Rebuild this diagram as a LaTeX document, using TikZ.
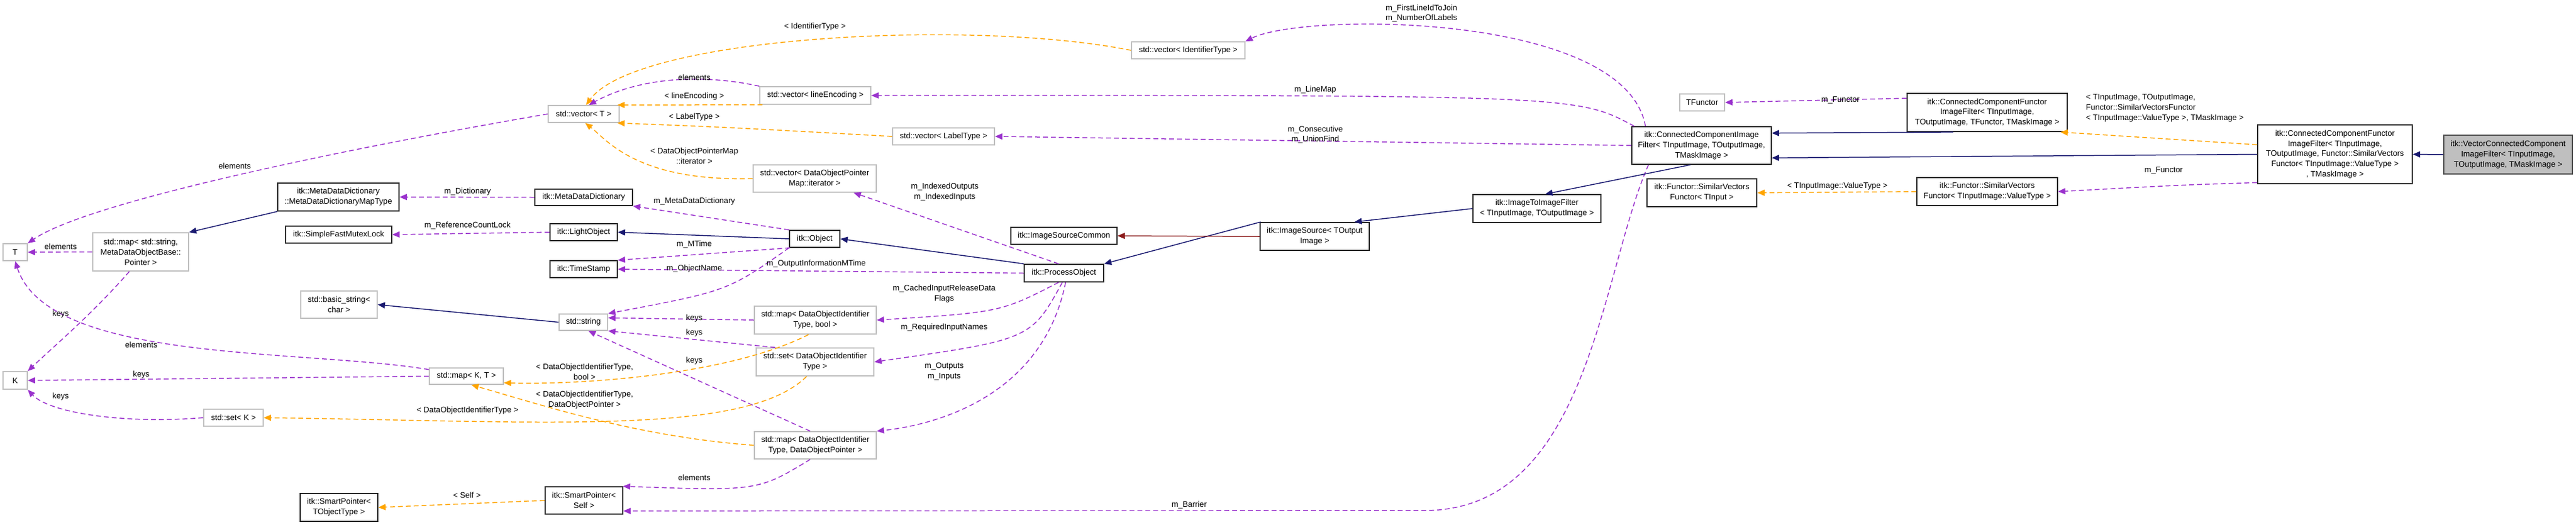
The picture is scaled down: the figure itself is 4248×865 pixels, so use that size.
\documentclass[tikz,border=0pt]{standalone}
\usepackage{fontspec}
\setmainfont{Liberation Sans}
\usetikzlibrary{arrows.meta,calc}
\definecolor{cuse}{HTML}{9A32CD}
\definecolor{ctpl}{HTML}{FFA500}
\definecolor{cinh}{HTML}{191970}
\definecolor{cred}{HTML}{8B1A1A}
\definecolor{cgray}{HTML}{BFBFBF}
\newcommand\bx[7]{\node[#6, minimum width={(#4-#2)*0.2mm}, minimum height={(#5-#3)*0.2mm}] (#1) at ({(#2+#4)/2},{(#3+#5)/2}) {#7};}
\begin{document}
\begin{tikzpicture}[x=0.2mm,y=-0.2mm,
  every node/.style={font=\fontsize{7.5}{9.6}\selectfont, inner sep=1pt, align=center},
  blk/.style={draw=black!85, line width=0.35mm, fill=white},
  gry/.style={draw=cgray, line width=0.35mm, fill=white},
  cur/.style={draw=black!70, line width=0.35mm, fill=cgray},
  lbl/.style={},
  tip/.style={-{Triangle[length=2.4mm,width=2mm]}},
  use/.style={tip, draw=cuse, line width=0.3mm, dash pattern=on 1.6mm off 1mm},
  tpl/.style={tip, draw=ctpl, line width=0.3mm, dash pattern=on 1.6mm off 1mm},
  inh/.style={tip, draw=cinh, line width=0.3mm},
  red/.style={tip, draw=cred, line width=0.3mm}]
\useasboundingbox (0,0) rectangle (4248,865);
% boxes
\bx{nT}{5}{402}{45}{430}{gry}{T}
\bx{nK}{5}{613}{45}{642}{gry}{K}
\bx{nMapStr}{153}{384}{311}{447}{gry}{std::map< std::string,\\MetaDataObjectBase::\\Pointer >}
\bx{nMDMT}{458}{302}{658}{348}{blk}{itk::MetaDataDictionary\\::MetaDataDictionaryMapType}
\bx{nSFML}{471}{373}{646}{401}{blk}{itk::SimpleFastMutexLock}
\bx{nBS}{496}{480}{622}{525}{gry}{std::basic\_string<\\char >}
\bx{nSetK}{336}{675}{434}{703}{gry}{std::set< K >}
\bx{nSPT}{495}{814}{623}{860}{blk}{itk::SmartPointer<\\TObjectType >}
\bx{nMapKT}{708}{607}{830}{634}{gry}{std::map< K, T >}
\bx{nSPS}{899}{803}{1027}{848}{blk}{itk::SmartPointer<\\Self >}
\bx{nVecT}{904}{174}{1021}{202}{gry}{std::vector< T >}
\bx{nMDD}{882}{312}{1043}{339}{blk}{itk::MetaDataDictionary}
\bx{nLO}{907}{369}{1018}{397}{blk}{itk::LightObject}
\bx{nTS}{907}{430}{1018}{458}{blk}{itk::TimeStamp}
\bx{nStr}{922}{518}{1002}{545}{gry}{std::string}
\bx{nVecId}{1866}{69}{2053}{97}{gry}{std::vector< IdentifierType >}
\bx{nVecLE}{1253}{143}{1436}{172}{gry}{std::vector< lineEncoding >}
\bx{nVecLT}{1472}{211}{1640}{239}{gry}{std::vector< LabelType >}
\bx{nVecIt}{1242}{272}{1445}{317}{gry}{std::vector< DataObjectPointer\\Map::iterator >}
\bx{nObj}{1302}{380}{1385}{408}{blk}{itk::Object}
\bx{nISC}{1667}{375}{1842}{403}{blk}{itk::ImageSourceCommon}
\bx{nPO}{1689}{436}{1820}{465}{blk}{itk::ProcessObject}
\bx{nMapB}{1244}{505}{1445}{551}{gry}{std::map< DataObjectIdentifier\\Type, bool >}
\bx{nSetD}{1247}{574}{1441}{620}{gry}{std::set< DataObjectIdentifier\\Type >}
\bx{nMapD}{1244}{712}{1445}{757}{gry}{std::map< DataObjectIdentifier\\Type, DataObjectPointer >}
\bx{nCCIF}{2691}{209}{2921}{271}{blk}{itk::ConnectedComponentImage\\Filter< TInputImage, TOutputImage,\\TMaskImage >}
\bx{nTF}{2770}{155}{2844}{183}{gry}{TFunctor}
\bx{nSVF}{2716}{295}{2897}{341}{blk}{itk::Functor::SimilarVectors\\Functor< TInput >}
\bx{nI2I}{2429}{321}{2640}{367}{blk}{itk::ImageToImageFilter\\< TInputImage, TOutputImage >}
\bx{nIS}{2078}{367}{2258}{413}{blk}{itk::ImageSource< TOutput\\Image >}
\bx{nCCF}{3145}{154}{3409}{217}{blk}{itk::ConnectedComponentFunctor\\ImageFilter< TInputImage,\\TOutputImage, TFunctor, TMaskImage >}
\bx{nCCFS}{3723}{206}{3978}{303}{blk}{itk::ConnectedComponentFunctor\\ImageFilter< TInputImage,\\TOutputImage, Functor::SimilarVectors\\Functor< TInputImage::ValueType >\\, TMaskImage >}
\bx{nVCC}{4030}{223}{4242}{287}{cur}{itk::VectorConnectedComponent\\ImageFilter< TInputImage,\\TOutputImage, TMaskImage >}
\bx{nSVFV}{3161}{293}{3393}{339}{blk}{itk::Functor::SimilarVectors\\Functor< TInputImage::ValueType >}
% edges
\draw[use] (nVecT.west) .. controls (600,240) and (150,330) .. (nT.north east);
\draw[use] (nMapStr.west) -- (nT.east);
\draw[use] (nMapStr.-120) .. controls (150,520) and (90,570) .. (nK.north east);
\draw[inh] (nMDMT.south west) -- (nMapStr.north east);
\draw[use] (nMapKT.170) .. controls (500,575) and (80,600) .. (nT.south);
\draw[use] (nMapKT.west) -- (nK.east);
\draw[use] (nSetK.west) .. controls (200,700) and (80,680) .. (nK.south east);
\draw[use] (nMDD.west) -- (nMDMT.east);
\draw[use] (nLO.west) -- (nSFML.east);
\draw[inh] (nStr.west) -- (nBS.east);
\draw[tpl] (nSPS.west) -- (nSPT.east);
\draw[inh] (nObj.west) -- (nLO.east);
\draw[use] (nObj.north west) -- (nMDD.south east);
\draw[use] (nObj.200) -- (nTS.north east);
\draw[use] (nObj.south west) .. controls (1200,480) .. (nStr.north east);
\draw[use] (nPO.west) -- (nTS.east);
\draw[inh] (nPO.north west) -- (nObj.east);
\draw[use] (nPO.120) -- (nVecIt.-20);
\draw[use] (nPO.-120) .. controls (1650,515) .. (nMapB.east);
\draw[use] (nPO.-100) .. controls (1700,560) .. (nSetD.east);
\draw[use] (nPO.-80) .. controls (1720,650) and (1550,700) .. (nMapD.north east);
\draw[use] (nMapB.west) -- (nStr.10);
\draw[use] (nSetD.160) -- (nStr.south east);
\draw[use] (nMapD.110) -- (nStr.-60);
\draw[tpl] (nMapB.-115) .. controls (1200,620) and (950,635) .. (nMapKT.-10);
\draw[tpl] (nMapD.west) .. controls (1050,720) and (900,670) .. (nMapKT.-60);
\draw[tpl] (nSetD.-120) .. controls (1230,720) and (900,695) .. (nSetK.east);
\draw[use] (nMapD.-110) .. controls (1250,810) .. (nSPS.20);
\draw[use] (nCCIF.-160) .. controls (2640,450) and (2620,842) .. (2350,842) -- (nSPS.-15);
\draw[use] (nCCIF.161) .. controls (2680,20) and (2150,20) .. (nVecId.north east);
\draw[use] (nCCIF.164) .. controls (2600,157) .. (nVecLE.east);
\draw[use] (nCCIF.west) -- (nVecLT.east);
\draw[tpl] (nVecId.west) .. controls (1600,30) and (1050,60) .. (nVecT.75);
\draw[use] (nVecLE.north west) .. controls (1150,120) and (1050,130) .. (nVecT.60);
\draw[tpl] (nVecLE.-170) -- (nVecT.15);
\draw[tpl] (nVecLT.west) .. controls (1200,210) .. (nVecT.-15);
\draw[tpl] (nVecIt.west) .. controls (1050,300) and (1000,230) .. (nVecT.-80);
\draw[inh] (nIS.165) -- (nPO.north east);
\draw[red] (nIS.west) -- (nISC.east);
\draw[inh] (nI2I.west) -- (nIS.20);
\draw[inh] (nCCIF.-120) -- (nI2I.60);
\draw[inh] (nCCF.-150) -- (nCCIF.10);
\draw[use] (nCCF.170) -- (nTF.east);
\draw[tpl] (nCCFS.173) -- (nCCF.-15);
\draw[inh] (nCCFS.west) -- (nCCIF.-10);
\draw[use] (nCCFS.-160) .. controls (3600,305) .. (nSVFV.east);
\draw[tpl] (nSVFV.west) -- (nSVF.east);
\draw[inh] (nVCC.west) -- (nCCFS.east);
% labels
\node[lbl] (l1) at (100,407) {elements};
\node[lbl] (l2) at (387,274) {elements};
\node[lbl] (l3) at (100,518) {keys};
\node[lbl] (l4) at (233,569) {elements};
\node[lbl] (l5) at (233,618) {keys};
\node[lbl] (l6) at (100,654) {keys};
\node[lbl] (l7) at (771,316) {m\_Dictionary};
\node[lbl] (l8) at (771,372) {m\_ReferenceCountLock};
\node[lbl] (l9) at (770,817) {< Self >};
\node[lbl] (l10) at (771,677) {< DataObjectIdentifierType >};
\node[lbl] (l11) at (964,613) {< DataObjectIdentifierType,\\bool >};
\node[lbl] (l12) at (964,660) {< DataObjectIdentifierType,\\DataObjectPointer >};
\node[lbl] (l13) at (1145,525) {keys};
\node[lbl] (l14) at (1145,549) {keys};
\node[lbl] (l15) at (1145,595) {keys};
\node[lbl] (l16) at (1145,788) {elements};
\node[lbl] (l17) at (1961,833) {m\_Barrier};
\node[lbl] (l18) at (1557,485) {m\_CachedInputReleaseData\\Flags};
\node[lbl] (l19) at (1557,540) {m\_RequiredInputNames};
\node[lbl] (l20) at (1557,613) {m\_Outputs\\m\_Inputs};
\node[lbl] (l21) at (1558,317) {m\_IndexedOutputs\\m\_IndexedInputs};
\node[lbl] (l22) at (1145,332) {m\_MetaDataDictionary};
\node[lbl] (l23) at (1145,403) {m\_MTime};
\node[lbl] (l24) at (1145,443) {m\_ObjectName};
\node[lbl] (l25) at (1346,435) {m\_OutputInformationMTime};
\node[lbl] (l26) at (1344,44) {< IdentifierType >};
\node[lbl] (l27) at (1145,128) {elements};
\node[lbl] (l28) at (1145,159) {< lineEncoding >};
\node[lbl] (l29) at (1145,193) {< LabelType >};
\node[lbl] (l30) at (1145,257) {< DataObjectPointerMap\\::iterator >};
\node[lbl] (l31) at (2344,22) {m\_FirstLineIdToJoin\\m\_NumberOfLabels};
\node[lbl] (l32) at (2169,148) {m\_LineMap};
\node[lbl] (l33) at (2169,222) {m\_Consecutive\\m\_UnionFind};
\node[lbl] (l34) at (3035,165) {m\_Functor};
\node[lbl,align=left] (l35) at (3570,178) {< TInputImage, TOutputImage,\\Functor::SimilarVectorsFunctor\\< TInputImage::ValueType >, TMaskImage >};
\node[lbl] (l36) at (3568,281) {m\_Functor};
\node[lbl] (l37) at (3030,307) {< TInputImage::ValueType >};
\end{tikzpicture}
\end{document}
